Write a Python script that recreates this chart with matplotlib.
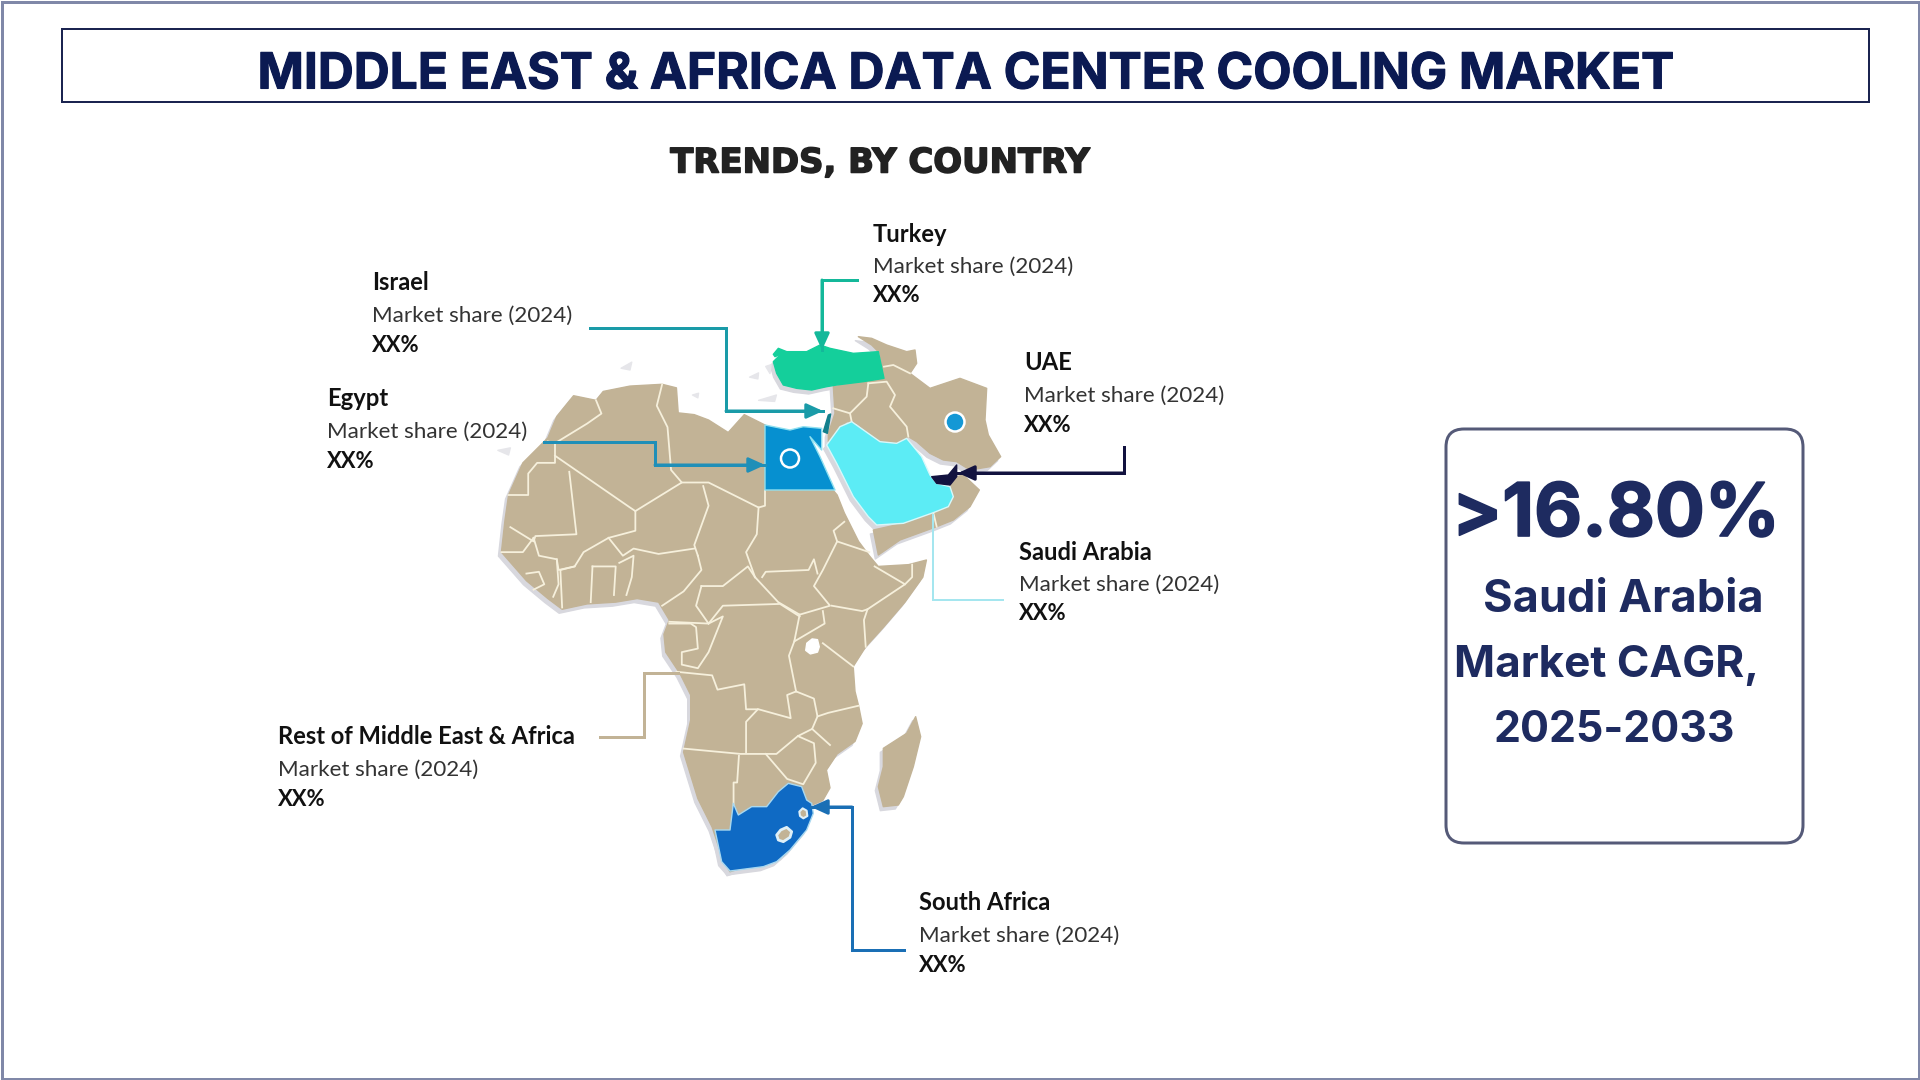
import matplotlib
matplotlib.use("Agg")
import matplotlib.pyplot as plt
import matplotlib.patheffects as pe
from matplotlib.patches import Polygon, FancyBboxPatch, Rectangle, Circle

# ---------- text content ----------
TITLE = "MIDDLE EAST & AFRICA DATA CENTER COOLING MARKET"
SUBTITLE = "TRENDS, BY COUNTRY"
countries = ["Turkey", "Israel", "UAE", "Egypt", "Saudi Arabia", "Rest of Middle East & Africa", "South Africa"]
share_label = "Market share (2024)"
share_value = "XX%"
label_x = [873, 372, 1024, 327, 1019, 278, 919]
label_y = [234, 283, 363, 399, 552, 737, 903]
kpi_value = ">16.80%"
kpi_lines = ["Saudi Arabia", "Market CAGR,", "2025-2033"]

# ---------- colours ----------
TAN = "#c2b396"
BORDER = "#f6f0dc"
SHADOW = "#d8d8de"
NAVY = "#0b1a52"
KPI = "#1e2b60"

# ---------- map outlines (2.8x crop at 480,320) ----------
africa = [(190,330),(215,270),(262,212),(325,225),(345,200),(420,185),(510,180),(550,190),(555,260),(600,265),(640,280),
          (695,315),(740,265),(800,295),(990,478),(1000,490),(1020,540),(1060,620),(1090,660),(1115,690),(1200,685),(1250,672),
          (1240,720),(1190,790),(1130,860),(1080,915),(1045,970),(1050,1040),(1060,1080),(1070,1130),(1050,1180),(1000,1215),
          (970,1260),(980,1310),(960,1345),(925,1360),(900,1440),(850,1500),(780,1520),(700,1545),(680,1510),(650,1420),
          (610,1340),(570,1210),(590,1120),(590,1050),(560,990),(520,930),(515,880),(530,840),(500,790),(440,780),(380,790),
          (300,795),(230,810),(190,780),(130,730),(60,650),(70,560),(80,490),(120,400)]
borders = [
    [(80,490),(135,490),(135,430),(160,400),(210,400),(210,345)],
    [(190,340),(210,345),(300,290),(340,262),(325,225)],
    [(210,380),(420,525),(435,535),(435,590),(360,610),(290,650),(265,690),(220,700),(215,670),(165,660),(150,610)],
    [(250,425),(270,600),(155,605),(150,620),(85,580)],
    [(510,180),(495,240),(525,300),(535,420),(565,455),(435,535)],
    [(565,455),(640,455),(780,525),(798,520),(798,478)],
    [(625,465),(640,520),(600,630),(610,660)],
    [(360,610),(400,660),(430,640),(500,655),(600,640)],
    [(780,525),(775,600),(745,650),(770,720)],
    [(620,745),(680,745),(750,690),(770,720)],
    [(610,660),(620,700),(570,760),(510,800)],
    [(620,745),(605,800),(640,850),(530,845)],
    [(640,850),(680,800),(840,795),(895,830)],
    [(770,720),(835,790),(895,825),(980,800),(935,745),(960,700),(1000,620),(1090,650)],
    [(790,720),(800,705),(920,700),(935,670),(945,710)],
    [(1000,620),(990,590),(1020,565)],
    [(985,800),(1070,815),(1085,810),(1190,740),(1105,690)],
    [(1190,740),(1210,720),(1210,685)],
    [(1085,810),(1075,840),(1080,915)],
    [(960,905),(1045,970)],
    [(895,825),(880,900),(965,850),(960,815)],
    [(880,900),(865,940),(885,1040)],
    [(885,1040),(935,1060),(945,1110),(975,1100),(1060,1080)],
    [(550,985),(650,995),(665,1035),(740,1020),(745,1090),(780,1090),(870,1115),(860,1050),(885,1040)],
    [(640,850),(680,830),(640,930),(610,975),(565,965),(565,930),(610,920),(605,860),(590,850),(530,850)],
    [(778,1090),(745,1125),(745,1210)],
    [(570,1200),(730,1215),(830,1215),(890,1165),(930,1145),(945,1110)],
    [(800,1215),(860,1285),(905,1300),(940,1240),(935,1185),(890,1165)],
    [(725,1220),(720,1295),(710,1295),(710,1385)],
    [(930,1145),(980,1190)],
    [(265,690),(225,700),(230,805)],
    [(315,690),(380,690),(375,770)],
    [(315,690),(310,790)],
    [(390,680),(430,660),(425,720),(410,770)],
    [(60,650),(120,650),(150,610)],
    [(215,670),(220,740),(205,775)],
    [(130,710),(165,705),(180,740),(150,755)],
]
lake = [(915,905),(930,893),(945,895),(950,915),(945,930),(925,935),(912,925)]
smudges = [[(395,135),(425,118),(420,140)], [(755,160),(780,148),(778,165)], [(780,225),(830,210),(825,228)],
           [(50,365),(85,358),(80,378)], [(595,210),(612,205),(610,218)], [(800,130),(815,125),(812,150)]]

# 3x crop at 740,320
me_north = [(355,50),(395,55),(440,75),(500,95),(525,90),(530,130),(510,160),(570,205),(660,175),(740,205),(735,300),(745,345),
            (782,410),(750,440),(690,450),(650,425),(610,420),(570,400),(530,365),(505,350),(470,370),(420,365),(350,310),
            (320,305),(300,325),(265,365),(265,340),(285,280),(280,200),(432,175),(420,100),(395,75)]
me_south = [(650,470),(670,465),(718,510),(690,560),(640,600),(590,620),(480,660),(415,705),(400,630),(490,610),(580,578),
            (625,560),(640,530),(630,495)]
me_borders = [[(280,265),(330,280),(380,230),(385,190)],[(385,190),(440,185),(465,225),(450,260),(500,320),(505,350)],
              [(330,280),(335,305)],[(580,578),(590,620)],[(432,140),(460,135),(510,160)]]
turkey = [(100,125),(130,95),(200,95),(240,75),(270,85),(340,100),(415,95),(432,175),(370,185),(290,195),(260,200),(215,210),
          (170,205),(130,195),(110,160)]
thrace = [(100,103),(115,85),(140,95),(105,110)]
saudi = [(300,320),(335,305),(420,365),(470,370),(500,355),(545,410),(570,465),(590,490),(630,500),(640,530),(625,560),(580,578),
         (490,610),(410,615),(385,590),(340,530),(290,430),(260,375)]
uae = [(575,470),(625,465),(650,435),(650,470),(630,495),(590,490)]
israel = [(265,285),(272,282),(262,340),(250,335)]
egypt = [(75,315),(100,320),(150,330),(190,320),(245,325),(245,390),(210,350),(240,410),(285,510),(75,510)]

# 3x crop at 650,680
south_africa = [(415,310),(455,320),(470,360),(485,370),(490,400),(470,450),(420,510),(380,545),(340,560),(240,573),(215,545),
                (195,450),(240,450),(250,370),(265,405),(305,380),(350,380),(385,335)]
lesotho = [(380,465),(392,450),(410,442),(425,455),(420,472),(400,485),(385,480)]
eswatini = [(448,395),(458,385),(470,392),(472,408),(460,415),(450,408)]
madagascar = [(797,110),(812,170),(790,260),(760,350),(745,375),(700,380),(685,320),(700,260),(700,205),(770,160)]

def crop1(p): return [(480 + x / 2.8, 320 + y / 2.8) for x, y in p]
def crop2(p): return [(740 + x / 3, 320 + y / 3) for x, y in p]
def crop3(p): return [(650 + x / 3, 680 + y / 3) for x, y in p]

# leader lines, full-frame pixels
leaders = [
    ("#14b89a", [(857,280),(822,280),(822,350)], True),
    ("#1a9ba8", [(590,328),(726,328),(726,411),(823,411)], True),
    ("#1f8fb8", [(544,442),(655,442),(655,465),(765,465)], True),
    ("#12123f", [(1124,447),(1124,473),(958,473)], True),
    ("#a5e6ef", [(933,515),(933,600),(1003,600)], False),
    (TAN, [(600,737),(644,737),(644,673),(678,673)], False),
    ("#1a6fb5", [(904,950),(852,950),(852,807),(811,807)], True),
]

fig = plt.figure(figsize=(19.2, 10.8), dpi=100, facecolor="white")
ax = fig.add_axes([0, 0, 1, 1])
ax.set_xlim(0, 1920); ax.set_ylim(1080, 0); ax.axis("off")
PT = 72 / 100  # points per pixel

def fit(t, w):
    fig.canvas.draw()
    t.set_fontsize(t.get_fontsize() * w / t.get_window_extent().width)

ax.add_patch(Rectangle((1.5, 1.5), 1917, 1077, fill=False, ec="#8088a8", lw=3 * PT))
ax.add_patch(Rectangle((62, 29), 1807, 73, fc="white", ec="#1b2450", lw=2 * PT))
t = ax.text(965, 70, TITLE, ha="center", va="center_baseline", color=NAVY, family="Inter", weight="bold", fontsize=33,
            path_effects=[pe.withStroke(linewidth=0.8, foreground=NAVY)])
fit(t, 1417)
t = ax.text(880, 163, SUBTITLE, ha="center", va="center", color="#222222", family="DejaVu Sans", weight="bold", fontsize=23,
            path_effects=[pe.withStroke(linewidth=1.1, foreground="#222222")])
fit(t, 420)

def shape(pts, color, ec=None, z=3, lw=1.0):
    ax.add_patch(Polygon(pts, closed=True, fc=color, ec=ec or color, lw=lw, zorder=z, joinstyle="round"))

# shadow
for p in [crop1(africa), crop2(me_north), crop2(me_south), crop2(turkey), crop2(saudi), crop3(madagascar), crop3(south_africa)]:
    shape([(x - 3, y + 4) for x, y in p], SHADOW, z=2)
for s in smudges:
    shape(crop1(s), "#e6e6ea", z=2)

shape(crop1(africa), TAN)
shape(crop2(me_north), TAN)
shape(crop2(me_south), TAN)
shape(crop3(madagascar), TAN)
for b in borders:
    xs, ys = zip(*crop1(b))
    ax.plot(xs, ys, color=BORDER, lw=1.8 * PT, zorder=4, solid_joinstyle="round")
for b in me_borders:
    xs, ys = zip(*crop2(b))
    ax.plot(xs, ys, color=BORDER, lw=1.8 * PT, zorder=4)
shape(crop1(lake), "white", z=4)

shape(crop2(egypt), "#0690d0", ec="#8fe0f0", z=5)
shape(crop2(saudi), "#5cecf5", ec="#d8f8fa", z=5)
shape(crop2(turkey), "#14cf9b", z=5)
shape(crop2(thrace), "#14cf9b", z=5)
shape(crop2(israel), "#127f8c", z=5)
shape(crop2(uae), "#12123f", z=6)
shape(crop3(south_africa), "#0f6ac4", ec="#a8d8f0", z=5)
shape(crop3(lesotho), TAN, ec="#dff0f8", z=6, lw=2)
shape(crop3(eswatini), TAN, ec="#dff0f8", z=6, lw=1.5)

ax.add_patch(Circle((790, 458.5), 9, fc="#0690d0", ec="white", lw=2.5 * PT, zorder=7))
ax.add_patch(Circle((955, 422), 9.5, fc="#1498d5", ec="white", lw=2.5 * PT, zorder=7))

for col, pts, arrow in leaders:
    xs, ys = zip(*pts)
    ax.plot(xs, ys, color=col, lw=3 * PT if col != "#a5e6ef" else 2 * PT, zorder=8, solid_joinstyle="miter")
    if arrow:
        ax.annotate("", xy=pts[-1], xytext=pts[-2], zorder=9,
                    arrowprops=dict(arrowstyle="-|>,head_length=0.7,head_width=0.32", color=col, lw=3 * PT,
                                    shrinkA=0, shrinkB=0, mutation_scale=14))

for name, x, y in zip(countries, label_x, label_y):
    ax.text(x, y, name, ha="left", va="center", family="Lato", weight="bold", fontsize=17.1, color="#111111")
    ax.text(x, y + 33, share_label, ha="left", va="center", family="Lato", fontsize=16.1, color="#333333")
    ax.text(x, y + 62, share_value, ha="left", va="center", family="Lato", weight="bold", fontsize=15.8, color="#111111")

ax.add_patch(FancyBboxPatch((1461, 444), 327, 384, boxstyle="round,pad=15,rounding_size=18", fc="white", ec="#555a78", lw=3 * PT))
t = ax.text(1616, 536, kpi_value, ha="center", va="baseline", color=KPI, family="Inter", weight="bold", fontsize=54,
            path_effects=[pe.withStroke(linewidth=1.2, foreground=KPI)])
fit(t, 328)
for line, cx, b, w in zip(kpi_lines, [1623, 1607, 1614], [612, 677, 742], [280, 305, 241]):
    t = ax.text(cx, b, line, ha="center", va="baseline", color=KPI, family="Inter", weight="bold", fontsize=32)
    fit(t, w)

fig.savefig("out.png", dpi=100, facecolor="white")
